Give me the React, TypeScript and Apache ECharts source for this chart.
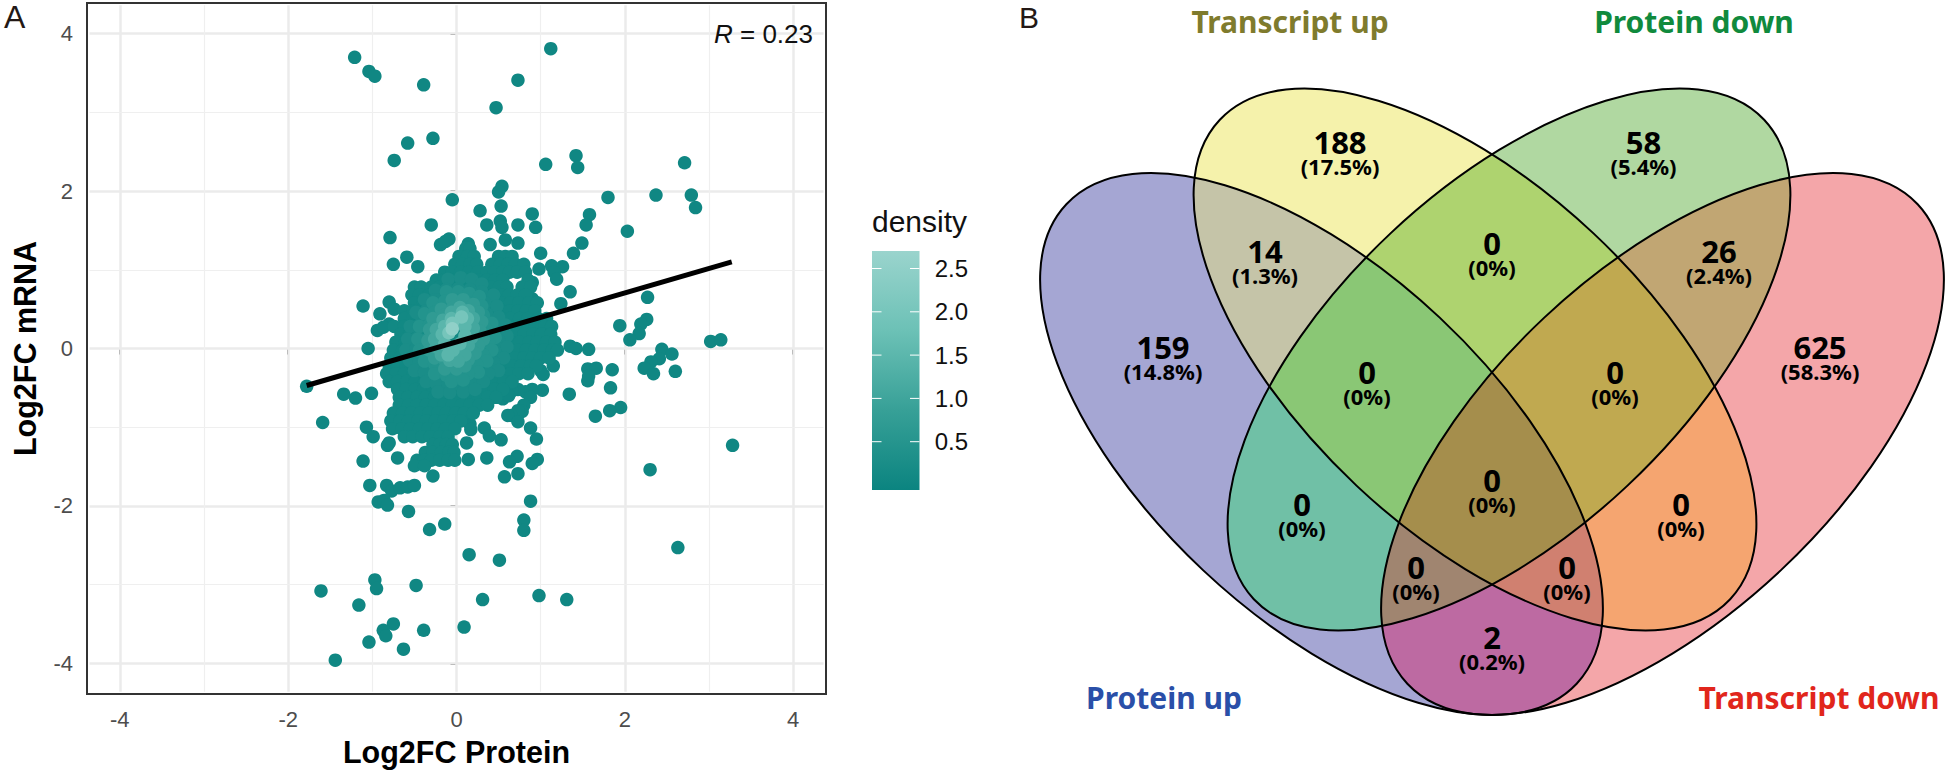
import React, { useEffect, useRef } from "react";
import * as echarts from "echarts";

type P = [number, number];

// ---------- Panel A data ----------
const xTicks = [-4, -2, 0, 2, 4];
const yTicks = [-4, -2, 0, 2, 4];
const minorGrid = [-3, -1, 1, 3];
const densityTicks = ["0.5", "1.0", "1.5", "2.0", "2.5"];
const fitLine: P[] = [[-1.78, -0.47], [3.27, 1.1]];

const outlierPoints: P[] = [
  [-1.21, 3.7], [-1.04, 3.52], [-0.97, 3.46], [-0.39, 3.35], [0.47, 3.06], [1.12, 3.81], [0.73, 3.41],
  [-0.28, 2.67], [-0.58, 2.61], [-0.74, 2.39], [1.42, 2.45], [1.44, 2.3], [1.06, 2.34], [2.71, 2.36],
  [1.8, 1.92], [2.37, 1.95], [2.79, 1.95], [2.84, 1.79], [2.03, 1.49], [0.54, 2.06], [0.5, 1.99],
  [-0.05, 1.89], [0.53, 1.81], [0.28, 1.75], [0.9, 1.71], [1.58, 1.7], [1.54, 1.57], [0.52, 1.62],
  [0.54, 1.54], [0.36, 1.57], [0.73, 1.57], [0.94, 1.54], [-0.3, 1.57], [-0.79, 1.41], [0.58, 1.38],
  [0.4, 1.32], [0.73, 1.34], [1.49, 1.34], [1.39, 1.21], [1.0, 1.21], [-0.09, 1.39], [-0.19, 1.32],
  [-0.13, 1.36], [0.14, 1.33], [-0.59, 1.16], [-0.75, 1.07], [-0.46, 1.04], [0.98, 1.01], [1.26, 1.04],
  [1.13, 1.05], [1.16, 0.97], [1.19, 0.88], [0.9, 0.84], [1.35, 0.72], [0.9, 0.63], [1.24, 0.57],
  [2.27, 0.65], [-1.11, 0.54], [-0.8, 0.59], [-0.91, 0.44], [-0.94, 0.23], [-0.8, 0.31], [-0.74, 0.5],
  [-0.87, 0.27], [-1.05, 0], [1.94, 0.29], [2.26, 0.37], [2.19, 0.31], [2.17, 0.19], [2.06, 0.11],
  [3.02, 0.09], [3.14, 0.11], [1.35, 0.03], [1.42, 0], [1.57, -0.01], [2.44, -0.01], [2.56, -0.07],
  [2.41, -0.13], [2.31, -0.17], [2.23, -0.25], [2.34, -0.32], [2.6, -0.29], [1.15, -0.22], [1.0, -0.28],
  [1.03, -0.33], [1.56, -0.26], [1.66, -0.25], [1.85, -0.27], [1.56, -0.41], [1.57, -0.35], [1.83, -0.5],
  [1.34, -0.58], [1.02, -0.53], [0.9, -0.52], [0.82, -0.55], [0.73, -0.52], [0.66, -0.54], [0.88, -0.62],
  [0.55, -0.64], [0.62, -0.6], [0.8, -0.72], [1.95, -0.75], [1.82, -0.79], [1.65, -0.86], [0.78, -0.8],
  [0.73, -0.79], [0.65, -0.85], [0.61, -0.85], [0.73, -0.93], [0.16, -0.96], [0.17, -1.03], [0.33, -1.01],
  [0.39, -1.11], [0.53, -1.16], [0.88, -1.01], [0.95, -1.15], [0.12, -1.2], [3.28, -1.23], [2.3, -1.54],
  [0.14, -1.41], [0.36, -1.39], [0.72, -1.37], [0.63, -1.44], [0.96, -1.41], [0.9, -1.46], [0.57, -1.63],
  [0.73, -1.59], [0.88, -1.94], [0.8, -2.18], [0.8, -2.31], [0.15, -2.62], [0.51, -2.69], [2.63, -2.53],
  [0.98, -3.14], [1.31, -3.19], [0.31, -3.19], [0.09, -3.54], [-0.39, -3.58], [-0.48, -3.01],
  [-0.32, -2.3], [-0.14, -2.23], [-0.57, -2.07], [-1.61, -3.08], [-0.97, -2.94], [-0.95, -3.05],
  [-1.16, -3.26], [-0.75, -3.5], [-0.87, -3.58], [-0.84, -3.65], [-1.04, -3.73], [-0.63, -3.82],
  [-1.44, -3.96], [-1.03, -1.74], [-0.83, -1.74], [-0.77, -1.81], [-0.67, -1.77], [-0.58, -1.76],
  [-0.5, -1.74], [-0.93, -1.95], [-0.86, -1.93], [-0.82, -1.99], [-0.28, -1.62], [-1.11, -1.43],
  [-0.7, -1.39], [-0.82, -1.23], [-0.8, -1.2], [-1.07, -1.0], [-0.99, -1.12], [-1.59, -0.94],
  [-1.34, -0.58], [-1.2, -0.63], [-1.01, -0.57], [-1.78, -0.48],
];

const blobRows: [number, number[]][] = [
  [1.27, [0.11, 0.16]],
  [1.17, [0.03, 0.13, 0.21, 0.5, 0.58, 0.66]],
  [1.07, [-0.02, 0.07, 0.16, 0.24, 0.42, 0.52, 0.61, 0.7, 0.8]],
  [0.97, [-0.14, -0.05, 0.05, 0.15, 0.25, 0.36, 0.45, 0.55, 0.63, 0.72, 0.82]],
  [0.87, [-0.24, -0.15, -0.05, 0.06, 0.16, 0.27, 0.36, 0.46, 0.55, 0.85]],
  [0.78, [-0.5, -0.42, -0.3, -0.2, -0.1, 0, 0.1, 0.2, 0.3, 0.41, 0.51, 0.6, 0.78, 0.88]],
  [0.68, [-0.53, -0.44, -0.33, -0.22, -0.12, -0.02, 0.09, 0.2, 0.31, 0.42, 0.53, 0.62, 0.72, 0.82]],
  [0.58, [-0.5, -0.4, -0.3, -0.2, -0.1, 0.01, 0.11, 0.22, 0.33, 0.43, 0.54, 0.64, 0.74, 0.86, 0.96]],
  [0.48, [-0.62, -0.52, -0.42, -0.31, -0.2, -0.1, 0, 0.11, 0.21, 0.32, 0.43, 0.53, 0.63, 0.73, 0.83, 0.93]],
  [0.38, [-0.62, -0.52, -0.41, -0.3, -0.2, -0.09, 0.01, 0.12, 0.22, 0.33, 0.44, 0.54, 0.64, 0.75, 0.85, 0.97, 1.07]],
  [0.28, [-0.74, -0.62, -0.52, -0.41, -0.31, -0.2, -0.1, 0, 0.1, 0.21, 0.31, 0.42, 0.52, 0.63, 0.73, 0.84, 0.94, 1.05, 1.13]],
  [0.18, [-0.66, -0.56, -0.46, -0.35, -0.25, -0.14, -0.04, 0.07, 0.17, 0.28, 0.38, 0.49, 0.59, 0.7, 0.8, 0.91, 1.01, 1.12]],
  [0.08, [-0.72, -0.61, -0.51, -0.4, -0.3, -0.19, -0.09, 0.02, 0.12, 0.23, 0.33, 0.44, 0.54, 0.65, 0.75, 0.86, 0.96, 1.07, 1.17]],
  [-0.02, [-0.75, -0.64, -0.54, -0.43, -0.33, -0.22, -0.12, -0.01, 0.09, 0.2, 0.3, 0.41, 0.51, 0.62, 0.72, 0.83, 0.93, 1.04, 1.14, 1.2]],
  [-0.12, [-0.78, -0.67, -0.57, -0.46, -0.36, -0.25, -0.15, -0.04, 0.06, 0.17, 0.27, 0.38, 0.48, 0.59, 0.69, 0.8, 0.9, 1.0, 1.1]],
  [-0.22, [-0.8, -0.7, -0.6, -0.49, -0.39, -0.28, -0.18, -0.07, 0.03, 0.14, 0.24, 0.35, 0.45, 0.56, 0.66, 0.77, 0.88, 0.95]],
  [-0.32, [-0.83, -0.72, -0.62, -0.51, -0.41, -0.3, -0.2, -0.09, 0.01, 0.12, 0.22, 0.33, 0.43, 0.54, 0.64, 0.74, 0.85]],
  [-0.42, [-0.8, -0.7, -0.59, -0.49, -0.38, -0.28, -0.17, -0.07, 0.04, 0.14, 0.25, 0.35, 0.46, 0.56, 0.66]],
  [-0.52, [-0.7, -0.6, -0.49, -0.39, -0.28, -0.18, -0.07, 0.03, 0.14, 0.24, 0.35, 0.45, 0.55]],
  [-0.62, [-0.68, -0.58, -0.47, -0.37, -0.26, -0.16, -0.05, 0.05, 0.16, 0.26, 0.37, 0.47]],
  [-0.72, [-0.68, -0.57, -0.47, -0.36, -0.26, -0.15, -0.05, 0.06, 0.16, 0.27, 0.37]],
  [-0.82, [-0.75, -0.64, -0.54, -0.43, -0.33, -0.22, -0.12, -0.01, 0.09, 0.2]],
  [-0.92, [-0.78, -0.67, -0.57, -0.46, -0.36, -0.25, -0.15, -0.04, 0.05]],
  [-1.02, [-0.76, -0.65, -0.55, -0.44, -0.34, -0.23, -0.13, -0.02]],
  [-1.12, [-0.62, -0.52, -0.41, -0.31, -0.2, -0.1]],
  [-1.22, [-0.28, -0.2, -0.12, -0.05]],
  [-1.32, [-0.37, -0.28, -0.18, -0.09, -0.03]],
  [-1.42, [-0.47, -0.38, -0.3, -0.2, -0.1, -0.02]],
  [-1.49, [-0.5, -0.38]],
];

const densityPoints04: P[] = [
  [-0.1, 0.88], [0.05, 0.9], [0.18, 0.88], [0.3, 0.82], [-0.25, 0.74], [-0.12, 0.75], [0.02, 0.76], [0.16, 0.75],
  [0.3, 0.72], [0.44, 0.68], [-0.38, 0.62], [-0.25, 0.62], [-0.1, 0.62], [0.05, 0.62], [0.2, 0.62], [0.34, 0.58],
  [0.48, 0.54], [-0.48, 0.46], [-0.36, 0.48], [0.36, 0.44], [0.5, 0.4], [0.58, 0.3], [-0.55, 0.28], [-0.44, 0.3],
  [0.46, 0.26], [0.6, 0.16], [-0.58, 0.12], [-0.46, 0.14], [0.5, 0.1], [0.6, 0.02], [-0.6, -0.02], [-0.48, 0],
  [0.46, -0.04], [0.56, -0.12], [-0.56, -0.15], [-0.44, -0.16], [0.44, -0.18], [0.5, -0.28], [-0.5, -0.28],
  [-0.38, -0.3], [0.38, -0.32], [-0.36, -0.42], [-0.24, -0.44], [-0.1, -0.46], [0.04, -0.46], [0.18, -0.44],
  [0.32, -0.42], [-0.22, -0.55], [-0.08, -0.56], [0.08, -0.55], [0.22, -0.52],
];
const densityPoints07: P[] = [
  [-0.12, 0.72], [0.02, 0.72], [0.15, 0.7], [0.27, 0.66], [-0.28, 0.58], [-0.14, 0.6], [0.02, 0.6], [0.16, 0.58],
  [0.3, 0.54], [-0.38, 0.44], [-0.26, 0.46], [0.32, 0.42], [0.42, 0.32], [-0.44, 0.28], [-0.32, 0.3], [0.36, 0.24],
  [0.46, 0.14], [-0.46, 0.12], [-0.34, 0.12], [0.38, 0.08], [0.42, -0.02], [-0.44, -0.02], [-0.32, -0.04], [0.32, -0.08],
  [0.36, -0.16], [-0.38, -0.16], [-0.26, -0.2], [0.24, -0.2], [0.26, -0.3], [-0.26, -0.32], [-0.12, -0.34], [0.02, -0.34],
  [0.14, -0.32], [-0.06, -0.42], [0.08, -0.4],
];
const densityPoints10: P[] = [
  [-0.05, 0.62], [0.08, 0.62], [0.2, 0.56], [-0.18, 0.5], [-0.04, 0.52], [0.26, 0.46], [-0.28, 0.38], [-0.16, 0.42],
  [0.3, 0.34], [-0.32, 0.24], [-0.22, 0.28], [0.28, 0.22], [0.32, 0.12], [-0.34, 0.1], [-0.24, 0.12], [0.26, 0.04],
  [-0.32, -0.02], [-0.22, 0], [0.22, -0.06], [-0.26, -0.12], [-0.14, -0.14], [0.14, -0.14], [-0.14, -0.26], [0, -0.26],
  [0.1, -0.22],
];
const densityPoints14: P[] = [
  [0.04, 0.52], [0.14, 0.48], [-0.06, 0.46], [-0.16, 0.36], [0.2, 0.38], [-0.24, 0.24], [-0.16, 0.26], [0.2, 0.26],
  [0.18, 0.14], [-0.26, 0.12], [-0.18, 0.14], [0.14, 0.04], [-0.24, 0.02], [-0.14, 0], [-0.18, -0.08], [0.1, -0.08],
  [-0.08, -0.15], [0.02, -0.16],
];
const densityPoints18: P[] = [
  [0.07, 0.46], [0.13, 0.38], [-0.06, 0.38], [-0.14, 0.28], [0.1, 0.28], [-0.17, 0.18], [0.1, 0.16], [0.04, 0.06],
  [-0.14, 0.06], [-0.04, -0.02], [-0.1, -0.08],
];
const densityPoints22: P[] = [
  [0.06, 0.4], [-0.05, 0.32], [-0.09, 0.2],
];
const densityPoints26: P[] = [
  [-0.05, 0.25],
];

// ---------- Panel B data ----------
const vennSetNames = ["Protein up", "Transcript up", "Protein down", "Transcript down"];
const vennRegionMasks = [1, 2, 4, 8, 3, 6, 12, 5, 10, 9, 7, 14, 15, 13, 11];
const vennCounts = ["159", "188", "58", "625", "14", "0", "26", "0", "0", "2", "0", "0", "0", "0", "0"];
const vennPercents = ["(14.8%)", "(17.5%)", "(5.4%)", "(58.3%)", "(1.3%)", "(0%)", "(2.4%)", "(0%)", "(0%)", "(0.2%)", "(0%)", "(0%)", "(0%)", "(0%)", "(0%)"];

// ---------- Layout and styles ----------
const W = 1946, H = 772;
const vennRegionColors = ["#a5a6d3", "#f5f2ab", "#b0d8a1", "#f4a6a9", "#c5c4a8", "#aed36f", "#c1a673", "#70c0a6", "#f5a570", "#bd6aa2", "#8ac775", "#c0a950", "#a58e4c", "#a08570", "#d08070"];
const vennLabelAnchors: P[] = [[1163, 347], [1340, 142], [1643.5, 142], [1820, 347], [1265, 251], [1492, 243], [1719, 251], [1302, 504], [1681, 504], [1492, 637], [1367, 372], [1615, 372], [1492, 480], [1416, 567], [1567, 567]];
const vennSetColors = ["#2a4fa8", "#7f7b2d", "#108a3d", "#e1261c"];
const vennSetLabelAnchors: P[] = [[1164, 697], [1290, 21], [1694, 21], [1819, 697]];
const A = 350, B = 173, T = (43.2 * Math.PI) / 180;
const ellipses = [
  { cx: 1321.5, cy: 444, th: T },
  { cx: 1475, cy: 359.5, th: T },
  { cx: 1509, cy: 359.5, th: -T },
  { cx: 1662.5, cy: 444, th: -T },
];
const paletteStops = ["#0b8480", "#37a097", "#6cc1b6", "#9ad4cd"];
const DENSITY_MAX = 2.7;
const GRID = { left: 87, top: 3, right: 826, bottom: 694 };
const LIM = 4.39;
const BAR = { x: 872, y: 251, w: 47.5, h: 239 };
const barY = (v: number) => 441.7 - (v - 0.5) * 86.6;

function inside(e: typeof ellipses[0], x: number, y: number) {
  const dx = x - e.cx, dy = y - e.cy, c = Math.cos(e.th), s = Math.sin(e.th);
  const u = (dx * c + dy * s) / A, v = (-dx * s + dy * c) / B;
  return u * u + v * v < 1;
}
function onEllipse(e: typeof ellipses[0], t: number): P {
  const c = Math.cos(e.th), s = Math.sin(e.th);
  const u = A * Math.cos(t), v = B * Math.sin(t);
  return [e.cx + u * c - v * s, e.cy + u * s + v * c];
}
// Boundary of one Venn region: the arcs of each ellipse whose other memberships match the mask.
function regionPolygon(mask: number): P[] {
  const runs: P[][] = [];
  const N = 1440;
  ellipses.forEach((e, i) => {
    const ok = (t: number) => {
      const p = onEllipse(e, t);
      return ellipses.every((o, j) => j === i || inside(o, p[0], p[1]) === ((mask >> j & 1) === 1));
    };
    let start = 0;
    while (start < N && ok((start / N) * 2 * Math.PI)) start++;
    let cur: P[] | null = null;
    for (let k = 0; k <= N; k++) {
      const t = ((start + k) / N) * 2 * Math.PI;
      if (ok(t)) { if (!cur) cur = []; cur.push(onEllipse(e, t)); }
      else if (cur) { runs.push(cur); cur = null; }
    }
    if (cur) runs.push(cur);
  });
  const out: P[] = [...(runs.shift() as P[])];
  while (runs.length) {
    const end = out[out.length - 1];
    let best = 0, rev = false, bd = Infinity;
    runs.forEach((r, idx) => {
      const a = Math.hypot(r[0][0] - end[0], r[0][1] - end[1]);
      const b = Math.hypot(r[r.length - 1][0] - end[0], r[r.length - 1][1] - end[1]);
      if (a < bd) { bd = a; best = idx; rev = false; }
      if (b < bd) { bd = b; best = idx; rev = true; }
    });
    const r = runs.splice(best, 1)[0];
    out.push(...(rev ? r.slice().reverse() : r));
  }
  return out;
}

const withD = (pts: P[], d: number) => pts.map(([x, y]) => [x, y, d]);
const gridLines = (vals: number[]) => [
  ...vals.map((v) => [{ coord: [v, -LIM + 0.03] }, { coord: [v, LIM - 0.03] }]),
  ...vals.map((v) => [{ coord: [-LIM + 0.03, v] }, { coord: [LIM - 0.03, v] }]),
];

const sans = "Liberation Sans";

function buildOption() {
  const blobPoints: P[] = [];
  blobRows.forEach(([y, xs]) => xs.forEach((x) => blobPoints.push([x, y])));
  const scatterData = [
    ...withD(outlierPoints, 0.1),
    ...withD(blobPoints, 0.15),
    ...withD(densityPoints04, 0.3),
    ...withD(densityPoints07, 0.5),
    ...withD(densityPoints10, 0.75),
    ...withD(densityPoints14, 1.1),
    ...withD(densityPoints18, 1.5),
    ...withD(densityPoints22, 2.0),
    ...withD(densityPoints26, 2.5),
  ];

  const elements: any[] = [];
  const text = (x: number, y: number, t: string, size: number, fill: string, extra: any = {}) => ({
    type: "text", x, y, silent: true, z: 20,
    style: { text: t, fontSize: size, fill, fontFamily: sans, align: "center", verticalAlign: "middle", ...extra },
  });

  elements.push(text(4, 16.5, "A", 32, "#231815", { align: "left" }));
  elements.push(text(1019, 17, "B", 30, "#231815", { align: "left" }));
  elements.push(text(813, 34, "{i|R} = 0.23", 26, "#111", {
    align: "right",
    rich: { i: { fontStyle: "italic", fontSize: 26, fontFamily: sans, fill: "#111" } },
  }));

  // density colour bar
  elements.push(text(872, 221, "density", 30, "#111", { align: "left" }));
  elements.push({
    type: "rect", silent: true,
    shape: { x: BAR.x, y: BAR.y, width: BAR.w, height: BAR.h },
    style: {
      fill: new echarts.graphic.LinearGradient(0, 1, 0, 0, paletteStops.map((color, i) => ({ offset: i / (paletteStops.length - 1), color }))),
    },
  });
  densityTicks.forEach((lab) => {
    const y = barY(parseFloat(lab));
    [[BAR.x, BAR.x + 9.5], [BAR.x + BAR.w - 9.5, BAR.x + BAR.w]].forEach(([a, b]) =>
      elements.push({ type: "line", silent: true, shape: { x1: a, y1: y, x2: b, y2: y }, style: { stroke: "#ffffff", lineWidth: 1 } }));
    elements.push(text(968, y, lab, 24, "#111", { align: "right" }));
  });

  // Venn regions, outlines, labels
  vennRegionMasks.forEach((m, i) => {
    elements.push({
      type: "polygon", silent: true,
      shape: { points: regionPolygon(m) },
      style: { fill: vennRegionColors[i], stroke: vennRegionColors[i], lineWidth: 1 },
    });
  });
  ellipses.forEach((e) => {
    elements.push({
      type: "ellipse", silent: true, x: e.cx, y: e.cy, rotation: -e.th,
      shape: { cx: 0, cy: 0, rx: A, ry: B },
      style: { fill: "none", stroke: "#000", lineWidth: 2 },
    });
  });
  const venn = "Noto Sans";
  vennRegionMasks.forEach((_, i) => {
    const [x, y] = vennLabelAnchors[i];
    elements.push(text(x, y + 11.75, `{c|${vennCounts[i]}}\n{p|${vennPercents[i]}}`, 22, "#000", {
      fontFamily: venn, fontWeight: "bold",
      rich: {
        c: { fontFamily: venn, fontWeight: "bold", fontSize: 31, lineHeight: 23.5, fill: "#000", align: "center" },
        p: { fontFamily: venn, fontWeight: "bold", fontSize: 22, lineHeight: 23.5, fill: "#000", align: "center" },
      },
    }));
  });
  vennSetNames.forEach((n, i) => {
    const [x, y] = vennSetLabelAnchors[i];
    elements.push(text(x, y, n, 30, vennSetColors[i], { fontFamily: venn, fontWeight: "bold" }));
  });

  const axisCommon = {
    type: "value", min: -LIM, max: LIM, nameLocation: "middle",
    nameTextStyle: { fontFamily: sans, fontWeight: "bold", fontSize: 30.5, color: "#000" },
    splitLine: { show: false }, minorSplitLine: { show: false },
    axisLine: { show: false },
    axisTick: { show: true, length: 6, inside: false, lineStyle: { color: "#333", width: 2 } },
  };

  return {
    animation: false,
    backgroundColor: "#fff",
    grid: {
      left: GRID.left, top: GRID.top, width: GRID.right - GRID.left, height: GRID.bottom - GRID.top,
      show: true, borderColor: "#333", borderWidth: 2, backgroundColor: "#fff",
      outerBoundsMode: "none", containLabel: false,
    },
    xAxis: {
      ...axisCommon, name: "Log2FC Protein", nameGap: 42,
      axisTick: { ...axisCommon.axisTick, customValues: xTicks },
      axisLabel: { customValues: xTicks, color: "#4d4d4d", fontSize: 22, fontFamily: sans, margin: 14 },
    },
    yAxis: {
      ...axisCommon, name: "Log2FC mRNA", nameGap: 47,
      axisTick: { ...axisCommon.axisTick, customValues: yTicks },
      axisLabel: { customValues: yTicks, color: "#4d4d4d", fontSize: 22, fontFamily: sans, margin: 14 },
    },
    visualMap: {
      show: false, type: "continuous", seriesIndex: 2, dimension: 2, min: 0, max: DENSITY_MAX,
      inRange: { color: paletteStops },
    },
    graphic: { elements },
    series: [
      {
        type: "scatter", data: [], silent: true, z: 1,
        markLine: {
          silent: true, symbol: "none", label: { show: false }, animation: false, z: 1,
          lineStyle: { color: "#ebebeb", width: 2.5, type: "solid" }, data: gridLines(xTicks),
        },
      },
      {
        type: "scatter", data: [], silent: true, z: 1,
        markLine: {
          silent: true, symbol: "none", label: { show: false }, animation: false, z: 1,
          lineStyle: { color: "#efefef", width: 1.2, type: "solid" }, data: gridLines(minorGrid),
        },
      },
      {
        type: "scatter", data: scatterData, symbol: "circle", symbolSize: 13.5, silent: true, z: 3,
        itemStyle: { opacity: 1 }, progressive: 0, large: false,
      },
      {
        type: "line", data: fitLine, symbol: "none", silent: true, z: 4,
        lineStyle: { color: "#000", width: 5, cap: "butt" },
      },
    ],
  };
}

export default function App() {
  const ref = useRef<HTMLDivElement>(null);
  useEffect(() => {
    const chart = echarts.init(ref.current as HTMLDivElement, undefined, { renderer: "svg" });
    chart.setOption(buildOption() as any);
    return () => chart.dispose();
  }, []);
  return <div ref={ref} style={{ position: "absolute", left: 0, top: 0, width: W, height: H }} />;
}
